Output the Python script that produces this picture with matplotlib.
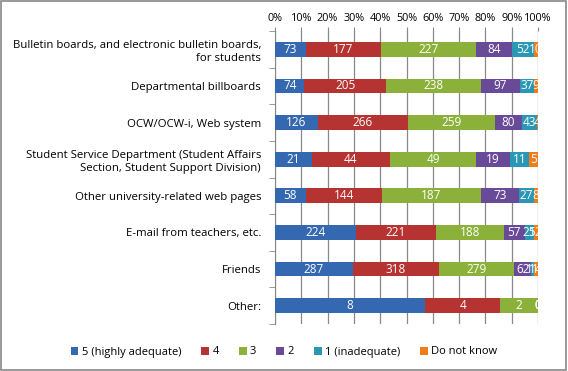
import numpy as np
import matplotlib.pyplot as plt
from matplotlib.patches import Rectangle

plt.rcParams['font.family'] = ['Open Sans', 'DejaVu Sans']

categories = ["Bulletin boards, and electronic bulletin boards,\nfor students",
              "Departmental billboards",
              "OCW/OCW-i, Web system",
              "Student Service Department (Student Affairs\nSection, Student Support Division)",
              "Other university-related web pages",
              "E-mail from teachers, etc.",
              "Friends",
              "Other:"]
series_names = ["5 (highly adequate)", "4", "3", "2", "1 (inadequate)", "Do not know"]
s5 = [73, 74, 126, 21, 58, 224, 287, 8]
s4 = [177, 205, 266, 44, 144, 221, 318, 4]
s3 = [227, 238, 259, 49, 187, 188, 279, 2]
s2 = [84, 97, 80, 19, 73, 57, 62, 0]
s1 = [52, 37, 43, 11, 27, 25, 11, 0]
dk = [10, 9, 4, 5, 8, 12, 14, 0]
ticks = [0, 10, 20, 30, 40, 50, 60, 70, 80, 90, 100]

colors = ["#3468B0", "#B53331", "#8BB13A", "#694A98", "#2A98B4", "#F07D1C"]

data = np.array([s5, s4, s3, s2, s1, dk], dtype=float)
totals = data.sum(axis=0)
pct = data / totals * 100

fig = plt.figure(figsize=(5.68, 3.71), dpi=100)
ax = fig.add_axes([275/568, 1 - 324/371, 263/568, 293/371])

y = np.arange(len(categories))
left = np.zeros(len(categories))
for i in range(len(series_names)):
    ax.barh(y, pct[i], left=left, height=0.4, color=colors[i], label=series_names[i], zorder=3)
    for j in range(len(categories)):
        ax.text(left[j] + pct[i][j] / 2, y[j], str(int(data[i][j])), color="white",
                ha="center", va="center", fontsize=8.5, zorder=4, clip_on=True)
    left = left + pct[i]

ax.set_xlim(0, 100)
ax.set_ylim(len(categories) - 0.5, -0.5)
ax.set_xticks(ticks)
ax.set_xticklabels([f"{t}%" for t in ticks], fontsize=7.8)
ax.xaxis.tick_top()
ax.tick_params(axis="x", length=3, color="#888888", pad=2)
ax.grid(axis="x", color="#888888", linewidth=0.9, zorder=0)
ax.set_yticks(y)
ax.set_yticklabels(categories, fontsize=8.2, linespacing=1.25)
ax.set_yticks(np.arange(len(categories) + 1) - 0.5, minor=True)
ax.tick_params(axis="y", which="major", length=0, pad=10)
ax.tick_params(axis="y", which="minor", length=4, color="#888888")
for s in ["top", "right", "bottom"]:
    ax.spines[s].set_visible(False)
ax.spines["left"].set_color("#888888")

fig.legend(loc="center", bbox_to_anchor=(0.5, 1 - 352/371), ncol=6, frameon=False,
           fontsize=8, handlelength=0.7, handleheight=0.7, handletextpad=0.3,
           columnspacing=1.8)

fig.patches.append(Rectangle((0.002, 0.003), 0.995, 0.994, transform=fig.transFigure,
                             fill=False, edgecolor="#888888", linewidth=1.2))

fig.savefig("out.png", dpi=100)
